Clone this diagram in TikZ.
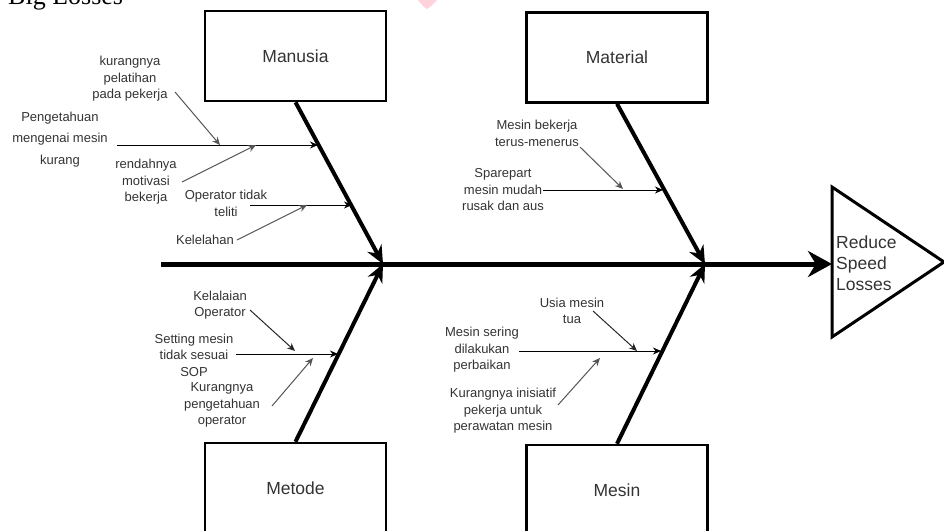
\documentclass[tikz,border=0pt]{standalone}
\usepackage{fontspec}
\setmainfont{Liberation Sans}
\newfontfamily\seriffont{Liberation Serif}
\usetikzlibrary{arrows.meta}
\definecolor{txt}{HTML}{333333}
\definecolor{subgray}{HTML}{555555}
\definecolor{wmark}{HTML}{FFD3DB}
\tikzset{
  catbox/.style={draw=black, line width=2.5pt, minimum width=181pt, minimum height=90pt,
    inner sep=0pt, font=\fontsize{17.5}{21}\selectfont, text=txt},
  lbl/.style={align=center, inner sep=0pt, text=txt, font=\fontsize{13}{16.5}\selectfont},
  bone/.style={line width=4pt, -{Stealth[length=18pt,width=16pt]}},
  subarrow/.style={line width=1pt, -{Stealth[length=8pt,width=7pt]}},
  diagarrow/.style={subarrow, draw=subgray},
}
\begin{document}
\begin{tikzpicture}[x=1pt,y=-1pt]
\useasboundingbox (0,0) rectangle (944,530);
% title (cut at top) and watermark
\node[anchor=base west, inner sep=0pt, font=\seriffont\fontsize{26}{30}\selectfont] (title) at (8,5) {Big Losses};
\fill[wmark] (416,-2) -- (439,-2) -- (430,7) -- (427,9) -- (424,7) -- cycle;
% category boxes
\node[catbox] (manusia) at (295.5,56) {Manusia};
\node[catbox] (material) at (617,57.5) {Material};
\node[catbox] (metode) at (295.5,488) {Metode};
\node[catbox] (mesin) at (617,490) {Mesin};
% spine and head
\coordinate (s0) at (161,264);
\coordinate (j1) at (383,264);
\coordinate (j2) at (705,264);
\coordinate (t1) at (832,187);
\coordinate (t2) at (944,262);
\coordinate (t3) at (832,337);
\coordinate (th) at (832,264);
\draw[line width=3pt, line join=miter] (t1) -- (t2) -- (t3) -- cycle;
\node[anchor=west, align=left, inner sep=0pt, text=txt, font=\fontsize{17.5}{21}\selectfont] (effect) at (836,263) {Reduce\\Speed\\Losses};
\draw[line width=5pt, -{Stealth[length=24pt,width=26pt]}] (s0) -- (th);
% bones
\draw[bone] (manusia.south) -- (j1);
\draw[bone] (material.south) -- (j2);
\draw[bone] (metode.north) -- (j1);
\draw[bone] (mesin.north) -- (j2);
% ---- Manusia causes
\node[lbl] (ma) at (130,79) {kurangnya\\pelatihan\\pada pekerja};
\node[lbl, font=\fontsize{13}{21.5}\selectfont] (mb) at (60,139.5) {Pengetahuan\\mengenai mesin\\kurang};
\node[lbl] (mc) at (146,182) {rendahnya\\motivasi\\bekerja};
\node[lbl] (md) at (226,203.5) {Operator tidak\\teliti};
\node[lbl] (me) at (205,240) {Kelelahan};
\coordinate (mbS) at (117,145);
\coordinate (mbE) at (318,145);
\coordinate (maS) at (175,92);
\coordinate (maE) at (220,145);
\coordinate (mcS) at (182,182);
\coordinate (mcE) at (256,145);
\coordinate (mdS) at (250,205);
\coordinate (mdE) at (352,205);
\coordinate (meS) at (237,240);
\coordinate (meE) at (307,205);
\draw[subarrow] (mbS) -- (mbE);
\draw[diagarrow] (maS) -- (maE);
\draw[diagarrow] (mcS) -- (mcE);
\draw[subarrow] (mdS) -- (mdE);
\draw[diagarrow] (meS) -- (meE);
% ---- Material causes
\node[lbl] (ta) at (537,133.5) {Mesin bekerja\\terus-menerus};
\node[lbl] (tb) at (503,190) {Sparepart\\mesin mudah\\rusak dan aus};
\coordinate (taS) at (580,147);
\coordinate (taE) at (623,189);
\coordinate (tbS) at (543,190);
\coordinate (tbE) at (663,190);
\draw[subarrow] (tbS) -- (tbE);
\draw[diagarrow] (taS) -- (taE);
% ---- Metode causes
\node[lbl] (ea) at (220,305) {Kelalaian\\Operator};
\node[lbl] (eb) at (194,355) {Setting mesin\\tidak sesuai\\SOP};
\node[lbl] (ec) at (222,405) {Kurangnya\\pengetahuan\\operator};
\coordinate (eaS) at (250,310);
\coordinate (eaE) at (295,351);
\coordinate (ebS) at (236,354);
\coordinate (ebE) at (338,354);
\coordinate (ecS) at (272,406);
\coordinate (ecE) at (313,358);
\draw[subarrow] (ebS) -- (ebE);
\draw[subarrow, draw=black!85] (eaS) -- (eaE);
\draw[diagarrow] (ecS) -- (ecE);
% ---- Mesin causes
\node[lbl] (sa) at (572,311) {Usia mesin\\tua};
\node[lbl] (sb) at (482,350) {Mesin sering\\dilakukan\\perbaikan};
\node[lbl] (sc) at (503,411) {Kurangnya inisiatif\\pekerja untuk\\perawatan mesin};
\coordinate (saS) at (593,311);
\coordinate (saE) at (637,351);
\coordinate (sbS) at (519,351);
\coordinate (sbE) at (661,351);
\coordinate (scS) at (558,405);
\coordinate (scE) at (600,358);
\draw[subarrow] (sbS) -- (sbE);
\draw[subarrow, draw=black!85] (saS) -- (saE);
\draw[diagarrow] (scS) -- (scE);
\end{tikzpicture}
\end{document}
